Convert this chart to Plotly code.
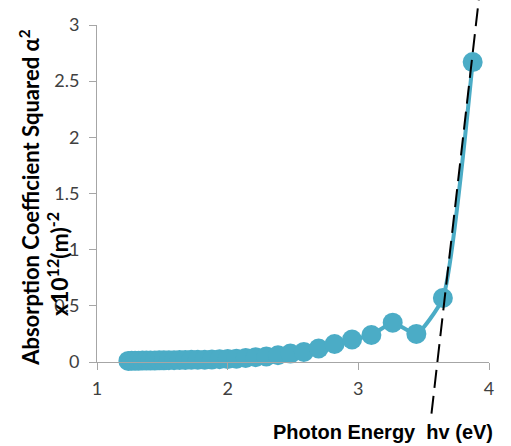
import plotly.graph_objects as go

# Photon energy (eV) and absorption coefficient squared (x10^12 m^-2)
energy = [1.240, 1.265, 1.292, 1.319, 1.348, 1.378, 1.409, 1.442, 1.476, 1.512,
          1.550, 1.590, 1.632, 1.676, 1.722, 1.771, 1.824, 1.879, 1.938, 2.000,
          2.067, 2.138, 2.214, 2.296, 2.385, 2.480, 2.583, 2.696, 2.818, 2.952,
          3.100, 3.263, 3.444, 3.647, 3.875]
alpha_sq = [0.010, 0.011, 0.012, 0.012, 0.013, 0.013, 0.014, 0.014, 0.015, 0.015,
            0.016, 0.016, 0.017, 0.018, 0.019, 0.020, 0.021, 0.022, 0.024, 0.026,
            0.030, 0.036, 0.043, 0.050, 0.060, 0.075, 0.090, 0.120, 0.160, 0.200,
            0.240, 0.350, 0.250, 0.570, 2.670]

# Tangent (band-gap extrapolation) line
band_gap = 3.605
tangent_slope = 10.18
tangent_y = [-0.46, 3.25]

x_ticks = [1, 2, 3, 4]
y_ticks = [0, 0.5, 1, 1.5, 2, 2.5, 3]
y_max = 3

color = "#4BACC6"
fig = go.Figure()
fig.add_trace(go.Scatter(
    x=energy, y=alpha_sq, mode="lines+markers",
    line=dict(color=color, width=4, shape="spline", smoothing=0.5),
    marker=dict(color=color, size=20),
    cliponaxis=False, showlegend=False,
))

fig.add_shape(
    type="line", xref="x", yref="y domain", layer="above",
    x0=band_gap + tangent_y[0] / tangent_slope, y0=tangent_y[0] / y_max,
    x1=band_gap + tangent_y[1] / tangent_slope, y1=tangent_y[1] / y_max,
    line=dict(color="black", width=2, dash="18px,8px"),
)

axis_common = dict(
    showgrid=False, zeroline=False, showline=True, linecolor="#A6A6A6", linewidth=1,
    ticks="outside", tickcolor="#A6A6A6", ticklen=7, tickwidth=1,
    tickfont=dict(family="Lato", size=18, color="#404040"),
)
fig.update_xaxes(range=[1, 4], tickvals=x_ticks, ticklabelstandoff=3, **axis_common)
fig.update_yaxes(range=[0, 3], tickvals=y_ticks, ticklabelstandoff=6, **axis_common)

fig.add_annotation(text="<b>Photon Energy\u00a0\u00a0hv (eV)</b>", xref="paper", yref="paper",
                   x=0.73, y=-0.208, xanchor="center", yanchor="middle",
                   showarrow=False,
                   font=dict(family="Liberation Sans", size=20, color="#000000"))
fig.add_annotation(text="<b>Absorption Coefficient Squared α<sup>2</sup></b>",
                   xref="paper", yref="paper", x=-0.171, y=0.49, textangle=-90,
                   xanchor="center", yanchor="middle", showarrow=False,
                   font=dict(family="Lato", size=22, color="#000000"))
fig.add_annotation(text="<b>x10<sup>12</sup>(m)<sup>-2</sup></b>",
                   xref="paper", yref="paper", x=-0.1, y=0.29, textangle=-90,
                   xanchor="center", yanchor="middle", showarrow=False,
                   font=dict(family="Lato", size=23, color="#000000"))

fig.update_layout(
    width=511, height=446,
    margin=dict(l=97, r=22, t=25, b=84),
    paper_bgcolor="white", plot_bgcolor="white",
)
fig.write_html("out.html", config={"displayModeBar": False},
               post_script="document.body.style.margin='0';document.body.style.overflow='hidden';")
